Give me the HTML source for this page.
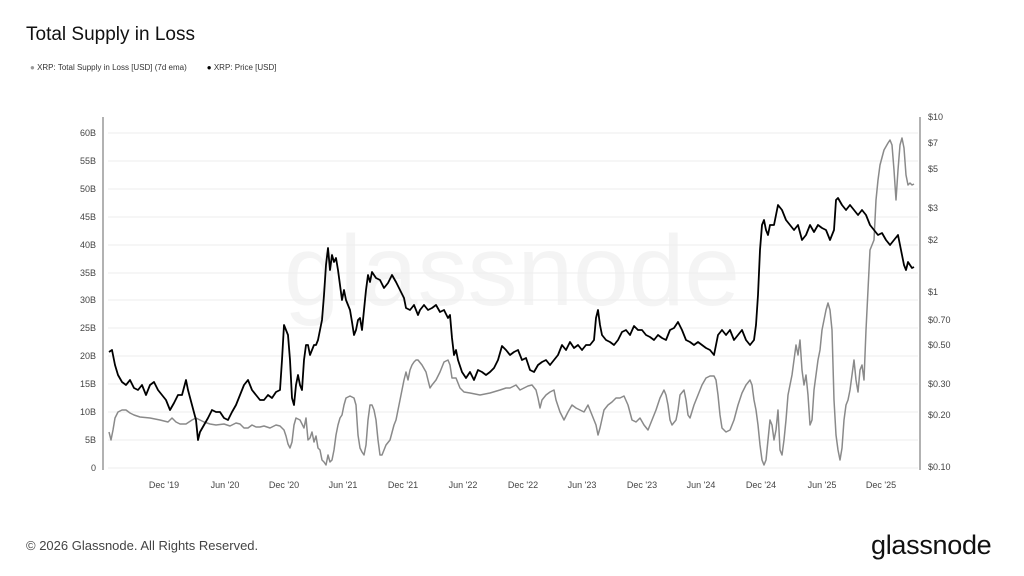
<!DOCTYPE html>
<html><head><meta charset="utf-8"><style>
body{margin:0;width:1024px;height:576px;background:#fff;font-family:"Liberation Sans",sans-serif;overflow:hidden;position:relative}
.t{position:absolute}
</style></head><body>
<div class="t" style="left:26px;top:24px;font-size:19px;color:#111">Total Supply in Loss</div>
<div class="t" style="left:30px;top:63px;font-size:8px;color:#333"><span style="color:#999">●</span> XRP: Total Supply in Loss [USD] (7d ema)<span style="display:inline-block;width:20px"></span><span style="color:#000">●</span> XRP: Price [USD]</div>
<div class="t" style="left:26px;top:538px;font-size:13px;color:#444">© 2026 Glassnode. All Rights Reserved.</div>
<div class="t" style="left:871px;top:530px;font-size:27px;color:#111;letter-spacing:-0.3px">glassnode</div>
<svg class="t" style="left:0;top:0" width="1024" height="576" font-family="Liberation Sans, sans-serif">
<text x="512" y="305" font-size="100" fill="#000" fill-opacity="0.045" text-anchor="middle">glassnode</text>
<g stroke="#eee" stroke-width="1">
<line x1="108" x2="918" y1="133" y2="133"/><line x1="108" x2="918" y1="161" y2="161"/><line x1="108" x2="918" y1="189" y2="189"/><line x1="108" x2="918" y1="217" y2="217"/><line x1="108" x2="918" y1="245" y2="245"/><line x1="108" x2="918" y1="273" y2="273"/><line x1="108" x2="918" y1="300" y2="300"/><line x1="108" x2="918" y1="328" y2="328"/><line x1="108" x2="918" y1="356" y2="356"/><line x1="108" x2="918" y1="384" y2="384"/><line x1="108" x2="918" y1="412" y2="412"/><line x1="108" x2="918" y1="440" y2="440"/><line x1="108" x2="918" y1="468" y2="468"/>
</g>
<line x1="103" x2="103" y1="117" y2="470" stroke="#999" stroke-width="1.5"/>
<line x1="920" x2="920" y1="117" y2="470" stroke="#999" stroke-width="1.5"/>
<g font-size="9" fill="#444" text-anchor="end">
<text x="96" y="136">60B</text><text x="96" y="164">55B</text><text x="96" y="192">50B</text><text x="96" y="220">45B</text><text x="96" y="248">40B</text><text x="96" y="276">35B</text><text x="96" y="303">30B</text><text x="96" y="331">25B</text><text x="96" y="359">20B</text><text x="96" y="387">15B</text><text x="96" y="415">10B</text><text x="96" y="443">5B</text><text x="96" y="471">0</text>
</g>
<g font-size="9" fill="#444">
<text x="928" y="120">$10</text><text x="928" y="146">$7</text><text x="928" y="172">$5</text><text x="928" y="211">$3</text><text x="928" y="243">$2</text><text x="928" y="295">$1</text><text x="928" y="323">$0.70</text><text x="928" y="348">$0.50</text><text x="928" y="387">$0.30</text><text x="928" y="418">$0.20</text><text x="928" y="470">$0.10</text>
</g>
<g font-size="9" fill="#444" text-anchor="middle">
<text x="164" y="488">Dec '19</text><text x="225" y="488">Jun '20</text><text x="284" y="488">Dec '20</text><text x="343" y="488">Jun '21</text><text x="403" y="488">Dec '21</text><text x="463" y="488">Jun '22</text><text x="523" y="488">Dec '22</text><text x="582" y="488">Jun '23</text><text x="642" y="488">Dec '23</text><text x="701" y="488">Jun '24</text><text x="761" y="488">Dec '24</text><text x="822" y="488">Jun '25</text><text x="881" y="488">Dec '25</text>
</g>
<polyline fill="none" stroke="#8a8a8a" stroke-width="1.5" stroke-linejoin="round" points="109,432 111,440 113,430 115,418 118,412 122,410 126,410 130,413 134,415 140,417 150,418 160,420 168,422 172,418 176,422 180,424 186,424 192,420 196,418 200,420 204,422 210,424 216,425 224,424 230,426 236,423 240,424 244,428 248,428 252,425 256,427 260,427 264,426 270,428 276,425 280,426 284,430 286,436 288,444 290,448 292,442 294,425 296,418 300,420 302,424 304,428 306,418 308,440 310,438 312,432 314,442 316,436 318,448 320,450 322,460 324,462 326,465 328,455 330,462 332,460 334,450 336,435 338,425 340,418 342,415 344,405 346,398 350,396 354,398 356,405 358,435 360,448 362,452 364,455 366,445 368,420 370,405 372,405 374,410 376,420 378,440 380,455 382,455 386,445 390,440 394,425 396,420 398,410 400,400 402,390 404,380 406,372 408,380 410,370 412,365 414,362 416,360 418,360 422,365 426,372 428,380 430,388 432,385 436,380 440,372 444,362 448,360 450,365 452,378 456,378 460,388 464,392 470,393 480,395 490,393 500,390 506,388 510,388 516,385 520,390 524,388 528,386 532,385 536,390 538,398 540,408 542,400 546,395 550,392 554,390 556,400 560,412 564,420 568,412 572,405 576,408 580,410 584,412 588,405 592,415 596,425 598,435 600,428 604,410 608,405 612,402 616,398 620,398 624,396 628,405 632,420 636,422 640,418 644,425 648,430 652,420 656,410 660,398 664,390 666,395 668,405 670,420 672,425 676,420 678,410 680,395 684,390 686,400 688,415 690,418 694,405 698,395 702,385 706,378 710,376 714,376 716,380 718,395 720,415 722,428 726,432 730,430 734,420 738,405 742,393 746,385 750,380 752,385 754,400 756,410 758,425 760,445 762,460 764,465 766,460 768,440 770,420 772,425 774,440 776,430 778,410 780,450 782,455 784,440 786,420 788,395 790,385 792,375 794,360 796,345 798,355 800,340 802,370 804,385 806,375 808,395 810,425 812,420 814,390 816,375 818,360 820,350 822,330 824,320 826,310 828,303 830,310 832,330 834,400 836,435 838,450 840,460 842,448 844,420 846,405 848,400 850,390 852,375 854,360 856,380 858,392 860,370 862,365 864,380 866,330 868,290 870,250 872,245 874,240 876,200 878,180 880,165 884,150 888,143 890,140 892,145 894,170 896,200 898,170 900,145 902,138 904,148 906,175 908,185 910,183 912,185 914,184"/>
<polyline fill="none" stroke="#000" stroke-width="1.8" stroke-linejoin="round" points="109,352 112,350 115,365 118,375 122,382 126,385 130,380 134,388 138,390 142,385 146,395 150,385 154,382 158,390 162,395 166,400 170,410 174,403 178,395 182,395 186,380 188,390 192,405 196,420 198,440 200,432 204,425 208,418 212,410 216,412 220,412 224,418 228,420 232,412 236,405 240,395 244,385 248,380 252,390 256,395 260,400 264,400 268,395 272,398 276,392 280,390 282,360 284,325 286,330 288,335 290,360 292,398 294,405 296,385 298,375 300,385 302,390 304,360 306,345 308,345 310,355 312,350 314,345 316,345 318,340 320,330 322,320 324,295 326,265 328,248 330,270 332,255 334,262 336,258 338,270 340,285 342,300 344,290 346,300 348,305 350,310 352,322 354,335 356,330 358,320 360,318 362,330 364,310 366,290 368,275 370,282 372,272 376,278 380,280 384,288 388,283 392,275 396,282 400,290 404,298 406,308 410,310 414,305 418,315 420,310 424,305 428,310 432,308 436,305 440,312 444,310 448,318 450,315 452,338 454,355 456,350 458,360 462,372 466,378 470,372 474,380 478,370 482,372 486,375 490,372 494,368 498,360 502,346 506,350 510,355 514,352 518,350 522,360 526,358 530,370 534,372 538,365 542,362 546,360 550,365 554,360 558,355 562,345 566,350 570,342 574,348 578,345 582,350 586,345 590,345 594,340 596,318 598,310 600,325 602,335 606,340 610,342 614,345 618,340 622,332 626,330 630,335 634,326 638,330 642,330 646,335 650,337 654,340 658,335 662,338 666,340 670,330 674,328 678,322 682,330 686,340 690,342 694,345 698,342 702,345 706,348 710,350 714,355 716,345 718,335 722,330 726,335 730,330 734,340 738,335 742,330 746,340 750,345 754,340 756,325 758,295 760,250 762,225 764,220 766,230 768,235 770,225 774,225 778,205 782,210 786,220 790,225 794,230 798,225 802,240 806,235 810,225 814,232 818,225 822,228 826,230 830,240 834,230 836,200 838,198 842,205 846,210 850,205 854,210 858,215 862,210 866,215 870,225 874,230 878,235 882,233 886,240 890,245 894,240 898,235 900,245 902,255 904,265 906,270 908,262 910,265 912,268 914,267"/>
</svg>
</body></html>
